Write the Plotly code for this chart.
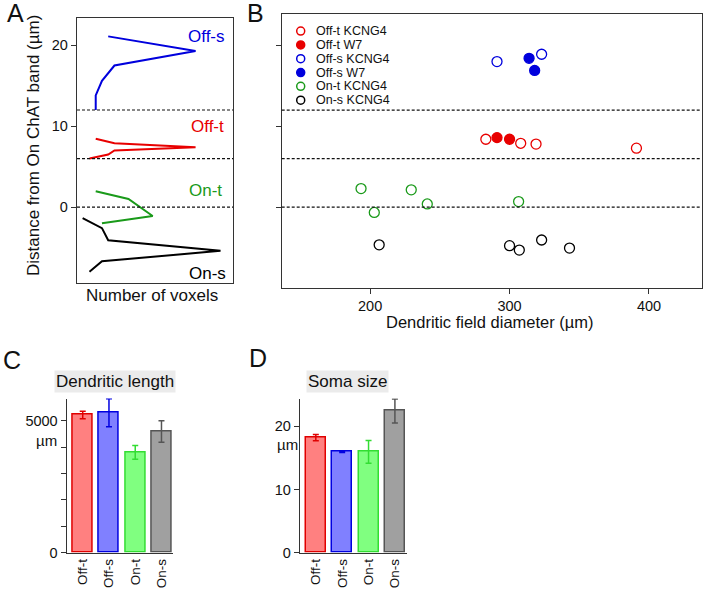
import plotly.graph_objects as go

# ---- Panel A: stratification profiles (depth in µm vs voxel count, arbitrary units)
offs_depth = [21.1, 19.3, 17.5, 15.6, 13.8, 12.0]
offs_vox = [20, 76, 24, 16, 12, 12]
offt_depth = [8.45, 7.9, 7.4, 7.0, 6.5, 6.0]
offt_vox = [12, 24, 76, 24, 20, 8]
ont_depth = [1.95, 1.0, -1.1, -2.0]
ont_vox = [12, 33, 48.5, 16]
ons_depth = [-1.35, -2.6, -4.1, -5.4, -6.7, -8.0]
ons_vox = [3.6, 16, 20, 92, 16, 8]

band_lines = [12, 6, 0]

# ---- Panel B: dendritic field diameter vs depth
offt_k_x = [283, 308, 319, 391]
offt_k_y = [8.4, 7.9, 7.8, 7.3]
offt_w_x = [291, 300]
offt_w_y = [8.6, 8.4]
offs_k_x = [291, 323]
offs_k_y = [18.0, 18.9]
offs_w_x = [314, 318]
offs_w_y = [18.4, 16.9]
ont_k_x = [193.5, 229.5, 241, 203, 306.5]
ont_k_y = [2.3, 2.15, 0.4, -0.65, 0.7]
ons_k_x = [206.5, 300, 307, 323, 343]
ons_k_y = [-4.65, -4.75, -5.3, -4.05, -5.05]

# ---- Panels C, D: bar charts
cell_types = ["Off-t", "Off-s", "On-t", "On-s"]
length_mean = [5225, 5310, 3810, 4600]
length_err = [145, 530, 260, 410]
soma_mean = [18.2, 15.95, 15.95, 22.45]
soma_err = [0.5, 0.08, 1.8, 1.9]

RED = "#e80000"
BLUE = "#0000dd"
GREEN = "#1a9a1a"
BLACK = "#000000"
AX = "#333333"
FONT = "Liberation Sans, Arial, sans-serif"

bar_fill = ["#ff8080", "#8080ff", "#80ff80", "#a0a0a0"]
bar_edge = ["#e00000", "#0000e0", "#33dd33", "#555555"]

fig = go.Figure()

# Panel A lines
for depth, vox, col in [(offs_depth, offs_vox, BLUE), (offt_depth, offt_vox, RED),
                        (ont_depth, ont_vox, GREEN), (ons_depth, ons_vox, BLACK)]:
    fig.add_trace(go.Scatter(x=vox, y=depth, mode="lines", line=dict(color=col, width=2),
                             xaxis="x", yaxis="y", showlegend=False))

# Panel B scatter
b_series = [
    ("Off-t KCNG4", offt_k_x, offt_k_y, RED, False),
    ("Off-t W7", offt_w_x, offt_w_y, RED, True),
    ("Off-s KCNG4", offs_k_x, offs_k_y, BLUE, False),
    ("Off-s W7", offs_w_x, offs_w_y, BLUE, True),
    ("On-t KCNG4", ont_k_x, ont_k_y, GREEN, False),
    ("On-s KCNG4", ons_k_x, ons_k_y, BLACK, False),
]
for name, xs, ys, col, filled in b_series:
    fig.add_trace(go.Scatter(
        x=xs, y=ys, mode="markers", name=name, xaxis="x2", yaxis="y2", showlegend=False,
        marker=dict(size=10, symbol="circle" if filled else "circle-open",
                    color=col, line=dict(color=col, width=1.3))))

# Panels C and D bars
for i, cat in enumerate(cell_types):
    fig.add_trace(go.Bar(
        x=[cat], y=[length_mean[i]], xaxis="x3", yaxis="y3", width=0.76, showlegend=False,
        marker=dict(color=bar_fill[i], line=dict(color=bar_edge[i], width=1.5)),
        error_y=dict(type="data", array=[length_err[i]], color=bar_edge[i], thickness=1.5, width=3)))
    fig.add_trace(go.Bar(
        x=[cat], y=[soma_mean[i]], xaxis="x4", yaxis="y4", width=0.76, showlegend=False,
        marker=dict(color=bar_fill[i], line=dict(color=bar_edge[i], width=1.5)),
        error_y=dict(type="data", array=[soma_err[i]], color=bar_edge[i], thickness=1.5, width=3)))

W, H = 705, 600


def px(x):
    return x / W


def py(y):
    return 1 - y / H


axis_common = dict(showline=True, linecolor=AX, linewidth=1.3, showgrid=False, zeroline=False,
                   tickcolor=AX, ticklen=5, tickwidth=1.2, tickfont=dict(size=14.5, color="#111"))
cat_ticks = dict(tickangle=-90, ticks="", tickfont=dict(size=13.5, color="#111"))
axis_cat = {**axis_common, **cat_ticks}

fig.update_layout(
    width=W, height=H, margin=dict(l=0, r=0, t=0, b=0),
    paper_bgcolor="white", plot_bgcolor="white",
    font=dict(family=FONT, size=15, color="#111"),
    showlegend=False,
    bargap=0,
    xaxis=dict(domain=[px(77), px(233)], range=[0, 100], anchor="y", mirror=True,
               showticklabels=False, ticks="", **axis_common),
    yaxis=dict(domain=[py(287), py(18)], range=[-9.4, 23.4], anchor="x", mirror=True,
               tickvals=[0, 10, 20], ticks="outside", **axis_common),
    xaxis2=dict(domain=[px(281.7), px(701.7)], range=[136.6, 437.8], anchor="y2", mirror=True,
                tickvals=[200, 300, 400], ticks="outside", **axis_common),
    yaxis2=dict(domain=[py(291.7), py(14)], range=[-9.96, 23.9], anchor="x2", mirror=True,
                tickvals=[0, 10, 20], ticks="outside", showticklabels=False, **axis_common),
    xaxis3=dict(domain=[px(66.7), px(173.3)], range=[-0.61, 3.45], anchor="y3", type="category",
                **axis_cat),
    yaxis3=dict(domain=[py(560), py(404)], range=[0, 5850], anchor="x3",
                tickvals=[0, 1000, 2000, 3000, 4000, 5000],
                ticktext=["0", "", "", "", "", "5000"], ticks="outside", **axis_common),
    xaxis4=dict(domain=[px(300), px(407.3)], range=[-0.6, 3.47], anchor="y4", type="category",
                **axis_cat),
    yaxis4=dict(domain=[py(560), py(404)], range=[0, 24.4], anchor="x4",
                tickvals=[0, 10, 20], ticks="outside", **axis_common),
)

shapes = []
for yv in band_lines:
    for xr, yr in [("x domain", "y"), ("x2 domain", "y2")]:
        shapes.append(dict(type="line", xref=xr, yref=yr, x0=0, x1=1, y0=yv, y1=yv,
                           line=dict(color="#111", width=1.2, dash="3px,2px")))

annotations = []


def note(text, x, y, size=17, color="#111", xanchor="center", angle=0, **kw):
    annotations.append(dict(text=text, x=px(x), y=py(y), xref="paper", yref="paper",
                            showarrow=False, xanchor=xanchor, yanchor="middle", textangle=angle,
                            font=dict(size=size, color=color, family=FONT), **kw))


# panel letters
note("A", 15, 13, size=25)
note("B", 255, 13, size=25)
note("C", 12, 365, size=25)
note("D", 258, 363, size=25)

# panel A labels
note("Off-s", 227, 37, color=BLUE, xanchor="right")
note("Off-t", 225.5, 128, color=RED, xanchor="right")
note("On-t", 223.5, 193, color=GREEN, xanchor="right")
note("On-s", 228, 277, color=BLACK, xanchor="right")

# axis titles
note("Distance from On ChAT band (µm)", 33, 148, angle=-90)
note("Number of voxels", 152, 299)
note("Dendritic field diameter (µm)", 490, 326.5, size=16.5)

# C/D titles and units
note("Dendritic length", 114.5, 386.5, bgcolor="#ebebeb", borderpad=1)
note("Soma size", 347.5, 386.5, bgcolor="#ebebeb", borderpad=1)
note("µm", 46.5, 446.5, size=15)
note("µm", 287.5, 450, size=15)

# legend for panel B (tight rows, as in the original)
leg_y0, leg_dy = 31.5, 14
for k, (name, xs, ys, col, filled) in enumerate(b_series):
    yc = leg_y0 + k * leg_dy
    shapes.append(dict(type="circle", xref="paper", yref="paper",
                       xsizemode="pixel", ysizemode="pixel",
                       xanchor=px(300.7), yanchor=py(yc), x0=-4, x1=4, y0=-4, y1=4,
                       line=dict(color=col, width=1.5),
                       fillcolor=col if filled else "rgba(0,0,0,0)"))
    note(name, 315, yc, size=12.5, xanchor="left", borderpad=0)

fig.update_layout(shapes=shapes, annotations=annotations)

# drop the page's default body margin so the figure sits at the window's corner
page_fix = """
document.documentElement.style.margin='0';
document.body.style.margin='0';
document.querySelectorAll('.svg-container').forEach(function(e){e.style.display='block';});
"""
fig.write_html("out.html", post_script=page_fix, config={"displayModeBar": False})
